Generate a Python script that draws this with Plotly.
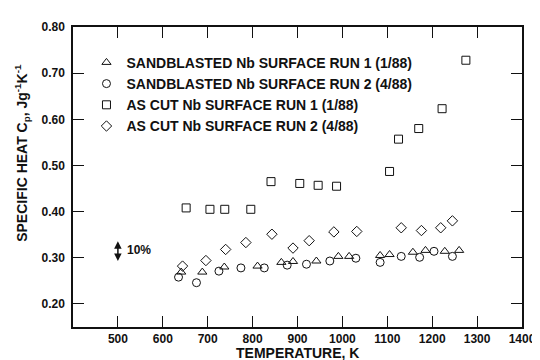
import plotly.graph_objects as go

# ---- data ----
sb1_T = [641, 688, 737, 811, 864, 890, 942, 991, 1015, 1084, 1105, 1157, 1185, 1228, 1260]
sb1_cp = [0.269, 0.269, 0.280, 0.282, 0.290, 0.292, 0.293, 0.303, 0.303, 0.305, 0.307, 0.312, 0.316, 0.314, 0.316]

sb2_T = [635, 675, 725, 774, 826, 877, 920, 972, 1030, 1084, 1131, 1172, 1204, 1245]
sb2_cp = [0.258, 0.246, 0.271, 0.278, 0.278, 0.284, 0.286, 0.293, 0.299, 0.290, 0.303, 0.301, 0.314, 0.303]

ac1_T = [652, 705, 738, 796, 841, 905, 946, 987, 1105, 1125, 1170, 1222, 1275]
ac1_cp = [0.408, 0.405, 0.405, 0.405, 0.465, 0.461, 0.457, 0.455, 0.487, 0.557, 0.580, 0.623, 0.728]

ac2_T = [644, 696, 740, 785, 843, 890, 926, 981, 1032, 1131, 1176, 1219, 1245]
ac2_cp = [0.282, 0.294, 0.318, 0.333, 0.351, 0.321, 0.337, 0.356, 0.357, 0.365, 0.359, 0.365, 0.380]

series_names = [
    "SANDBLASTED Nb SURFACE RUN 1 (1/88)",
    "SANDBLASTED Nb SURFACE RUN 2 (4/88)",
    "AS CUT Nb SURFACE RUN 1 (1/88)",
    "AS CUT Nb SURFACE RUN 2 (4/88)",
]

x_ticks = [500, 600, 700, 800, 900, 1000, 1100, 1200, 1300, 1400]
y_ticks = [0.20, 0.30, 0.40, 0.50, 0.60, 0.70, 0.80]
y_ticktext = ["0.20", "0.30", "0.40", "0.50", "0.60", "0.70", "0.80"]

# 10% error indicator
err_T = 500
err_low, err_high = 0.293, 0.339
err_label_T = 516

FONT = "Liberation Sans, Arial, Helvetica, sans-serif"
INK = "#111111"

fig = go.Figure()
specs = [
    (sb1_T, sb1_cp, "triangle-up-open", 8),
    (sb2_T, sb2_cp, "circle-open", 8),
    (ac1_T, ac1_cp, "square-open", 8),
    (ac2_T, ac2_cp, "diamond-open", 8),
]
for (xs, ys, sym, sz), name in zip(specs, series_names):
    fig.add_trace(go.Scatter(
        x=xs, y=ys, mode="markers", name=name,
        marker=dict(symbol=sym, size=sz, color=INK, line=dict(width=1, color=INK)),
    ))

axis_common = dict(
    showline=True, linecolor=INK, linewidth=1.5, mirror="ticks",
    ticks="inside", ticklen=11, tickwidth=1.2, tickcolor=INK,
    showgrid=False, zeroline=False, ticklabeloverflow="allow",
    tickfont=dict(family=FONT, size=12, color=INK, weight="bold"),
)

fig.update_xaxes(range=[400, 1400], tickvals=x_ticks, **axis_common)
fig.update_yaxes(range=[0.15, 0.80], tickvals=y_ticks, ticktext=y_ticktext,
                 ticklabelstandoff=4, **axis_common)

fig.add_annotation(x=err_T, y=err_low, ax=err_T, ay=err_high,
                   xref="x", yref="y", axref="x", ayref="y",
                   showarrow=True, arrowhead=2, arrowside="end+start",
                   arrowsize=1, arrowwidth=1.5, arrowcolor=INK, text="")
fig.add_annotation(x=err_label_T, y=(err_low + err_high) / 2, xref="x", yref="y",
                   text="10%", showarrow=False, xanchor="left", yanchor="middle",
                   font=dict(family=FONT, size=12, color=INK, weight="bold"))

# axis titles
fig.add_annotation(x=-0.114, y=0.58, xref="paper", yref="paper",
                   text="SPECIFIC HEAT C<sub>p</sub>, Jg<sup>-1</sup>K<sup>-1</sup>",
                   textangle=-90, showarrow=False, xanchor="center", yanchor="middle",
                   font=dict(family=FONT, size=14, color=INK, weight="bold"))
fig.add_annotation(x=0.5, y=-0.088, xref="paper", yref="paper",
                   text="TEMPERATURE, K", showarrow=False,
                   xanchor="center", yanchor="middle",
                   font=dict(family=FONT, size=14, color=INK, weight="bold"))

fig.update_layout(
    width=540, height=360,
    margin=dict(l=65, r=17, t=14, b=41),
    paper_bgcolor="white", plot_bgcolor="white",
    showlegend=True,
    legend=dict(x=0.03, y=0.934, xanchor="left", yanchor="top",
                bgcolor="rgba(0,0,0,0)", borderwidth=0,
                font=dict(family=FONT, size=14, color=INK, weight="bold"),
                itemwidth=30, tracegroupgap=0),
    font=dict(family=FONT, color=INK),
)

fig.write_html("out.html")
